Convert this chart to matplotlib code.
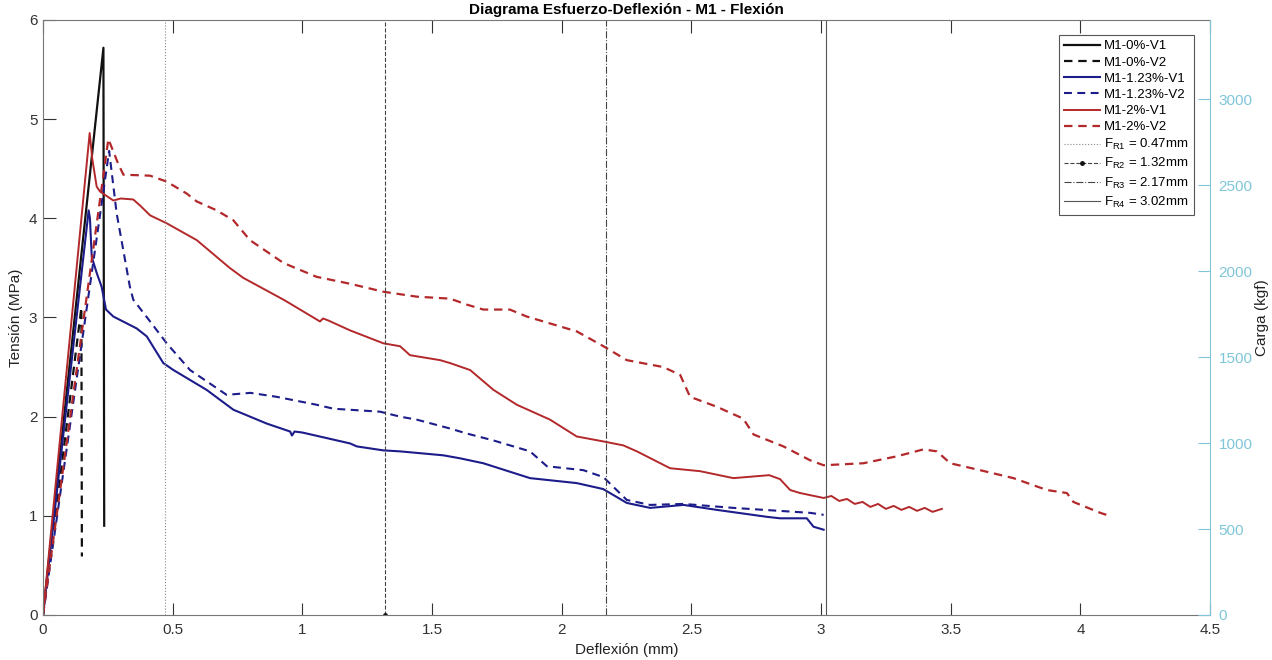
import matplotlib
matplotlib.use("Agg")
import matplotlib.pyplot as plt

plt.rcParams["font.family"] = ["Liberation Sans", "DejaVu Sans"]

# M1-0%
m0_v1_x = [0, 0.233, 0.236]
m0_v1_y = [0, 5.72, 0.90]
m0_v2_x = [0, 0.148, 0.150]
m0_v2_y = [0, 3.10, 0.59]

# M1-1.23%
m123_v1_x = [0, 0.176, 0.181, 0.188, 0.207, 0.226, 0.243, 0.271, 0.361, 0.40,
             0.464, 0.503, 0.631, 0.734, 0.863, 0.953, 0.960, 0.970, 1.0, 1.184,
             1.21, 1.312, 1.377, 1.544, 1.608, 1.698, 1.878, 2.058, 2.16, 2.251,
             2.341, 2.47, 2.598, 2.791, 2.842, 2.945, 2.971, 3.01]
m123_v1_y = [0, 4.08, 4.00, 3.61, 3.45, 3.31, 3.08, 3.01, 2.89, 2.81,
             2.54, 2.47, 2.27, 2.07, 1.93, 1.85, 1.81, 1.85, 1.84, 1.73,
             1.70, 1.66, 1.65, 1.61, 1.58, 1.53, 1.38, 1.33, 1.27, 1.13,
             1.08, 1.11, 1.06, 0.99, 0.975, 0.975, 0.89, 0.86]
m123_v2_x = [0, 0.255, 0.284, 0.335, 0.348, 0.413, 0.477, 0.567, 0.708, 0.80,
             0.901, 1.055, 1.12, 1.30, 1.377, 1.441, 1.57, 1.634, 1.737, 1.878,
             1.943, 2.084, 2.161, 2.251, 2.341, 2.47, 2.662, 2.958, 3.01]
m123_v2_y = [0, 4.68, 4.05, 3.31, 3.18, 2.96, 2.74, 2.47, 2.22, 2.24,
             2.20, 2.12, 2.08, 2.05, 2.00, 1.97, 1.88, 1.83, 1.76, 1.65,
             1.50, 1.46, 1.39, 1.16, 1.11, 1.12, 1.08, 1.03, 1.01]

# M1-2%
m2_v1_x = [0, 0.180, 0.19, 0.207, 0.22, 0.271, 0.30, 0.348, 0.374, 0.413,
           0.477, 0.593, 0.72, 0.772, 0.927, 0.953, 1.068, 1.08, 1.10, 1.184,
           1.312, 1.377, 1.415, 1.531, 1.57, 1.647, 1.737, 1.827, 1.955, 2.058,
           2.161, 2.238, 2.29, 2.418, 2.534, 2.662, 2.80, 2.842, 2.881, 2.919,
           3.01, 3.04, 3.07, 3.10, 3.13, 3.16, 3.19, 3.22, 3.25, 3.28,
           3.31, 3.34, 3.37, 3.40, 3.43, 3.466]
m2_v1_y = [0, 4.86, 4.60, 4.32, 4.27, 4.18, 4.20, 4.19, 4.13, 4.03,
           3.95, 3.78, 3.50, 3.40, 3.18, 3.14, 2.96, 2.99, 2.97, 2.87,
           2.74, 2.71, 2.62, 2.57, 2.54, 2.47, 2.27, 2.12, 1.97, 1.80,
           1.75, 1.71, 1.65, 1.48, 1.45, 1.38, 1.41, 1.37, 1.26, 1.23,
           1.18, 1.20, 1.15, 1.17, 1.12, 1.14, 1.09, 1.12, 1.07, 1.10,
           1.06, 1.09, 1.05, 1.08, 1.04, 1.07]
m2_v2_x = [0, 0.252, 0.29, 0.31, 0.413, 0.477, 0.554, 0.593, 0.67, 0.734,
           0.798, 0.927, 1.055, 1.184, 1.312, 1.441, 1.57, 1.634, 1.698, 1.80,
           1.865, 1.955, 2.058, 2.161, 2.251, 2.392, 2.457, 2.495, 2.598, 2.70,
           2.74, 2.855, 2.958, 3.01, 3.163, 3.292, 3.395, 3.447, 3.498, 3.614,
           3.742, 3.871, 3.948, 3.973, 4.077, 4.10]
m2_v2_y = [0, 4.80, 4.55, 4.44, 4.43, 4.37, 4.25, 4.17, 4.08, 3.98,
           3.78, 3.55, 3.41, 3.34, 3.26, 3.21, 3.19, 3.13, 3.08, 3.08,
           3.01, 2.94, 2.86, 2.71, 2.57, 2.50, 2.42, 2.20, 2.10, 1.98,
           1.82, 1.70, 1.56, 1.51, 1.53, 1.60, 1.67, 1.65, 1.53, 1.46,
           1.38, 1.26, 1.23, 1.14, 1.03, 1.01]

# residual deflections
fr_values = [0.47, 1.32, 2.17, 3.02]
fr_names = ["R1", "R2", "R3", "R4"]

x_ticks = [0, 0.5, 1, 1.5, 2, 2.5, 3, 3.5, 4, 4.5]
y_ticks = [0, 1, 2, 3, 4, 5, 6]
carga_ticks = [0, 500, 1000, 1500, 2000, 2500, 3000]

BLACK = "#111111"
BLUE = "#1c1c8a"
RED = "#b3282a"
CYAN = "#7fc6d8"

fig = plt.figure(figsize=(12.72, 6.6), dpi=100)
ax = fig.add_axes([0.0338, 0.0682, 0.9175, 0.9015])
ax2 = ax.twinx()

dash = (3.8, 2.6)
ax.plot(m0_v1_x, m0_v1_y, color=BLACK, lw=1.6, label="M1-0%-V1")
ax.plot(m0_v2_x, m0_v2_y, color=BLACK, lw=1.6, dashes=dash, label="M1-0%-V2")
ax.plot(m123_v1_x, m123_v1_y, color=BLUE, lw=1.5, label="M1-1.23%-V1")
ax.plot(m123_v2_x, m123_v2_y, color=BLUE, lw=1.5, dashes=dash, label="M1-1.23%-V2")
ax.plot(m2_v1_x, m2_v1_y, color=RED, lw=1.4, label="M1-2%-V1")
ax.plot(m2_v2_x, m2_v2_y, color=RED, lw=1.6, dashes=dash, label="M1-2%-V2")

fr_styles = [":", "--", "-.", "-"]
fr_colors = ["#888888", "#444444", "#444444", "#555555"]
for val, name, ls, c in zip(fr_values, fr_names, fr_styles, fr_colors):
    kw = {}
    if name == "R2":
        kw = dict(marker=".", markersize=5, markevery=[0],
                  markerfacecolor=BLACK, markeredgecolor=BLACK)
    ax.plot([val, val], [0, 6], color=c, lw=0.8, ls=ls,
            label=r"$\mathregular{F_{%s}}$ = %.2fmm" % (name, val), **kw)

ax.set_xlim(0, 4.5)
ax.set_ylim(0, 6)
ax.set_xticks(x_ticks)
ax.set_xticklabels([f"{t:g}" for t in x_ticks])
ax.set_yticks(y_ticks)
ax.tick_params(direction="in", length=9, width=0.8, colors="#333333",
               labelsize=11, top=True)
ax.tick_params(axis="y", pad=4)
ax.tick_params(axis="x", pad=6)
for side in ["left", "top", "bottom"]:
    ax.spines[side].set_color("#777777")
ax.spines["right"].set_visible(False)

ax2.set_ylim(0, 3460)
ax2.set_yticks(carga_ticks)
ax2.tick_params(direction="in", length=9, width=0.8, colors=CYAN, labelsize=11, pad=6)
for side in ["left", "top", "bottom"]:
    ax2.spines[side].set_visible(False)
ax2.spines["right"].set_color(CYAN)
ax2.set_ylabel("Carga (kgf)", fontsize=11, color="#222222", labelpad=2)

ax.set_xlabel("Deflexión (mm)", fontsize=11, color="#222222", labelpad=4)
ax.set_ylabel("Tensión (MPa)", fontsize=11, color="#222222", labelpad=4)
ax.set_title("Diagrama Esfuerzo-Deflexión - M1 - Flexión", fontsize=11,
             fontweight="bold", pad=4)

leg = ax.legend(loc="upper right", bbox_to_anchor=(0.986, 0.975), fontsize=9.5,
                frameon=True, fancybox=False, edgecolor="#555555", framealpha=1,
                handlelength=2.7, handletextpad=0.3, borderpad=0.4,
                labelspacing=0.3, borderaxespad=0)
leg.get_frame().set_linewidth(0.8)
leg.set_zorder(10)

fig.savefig("out.png", dpi=100)
